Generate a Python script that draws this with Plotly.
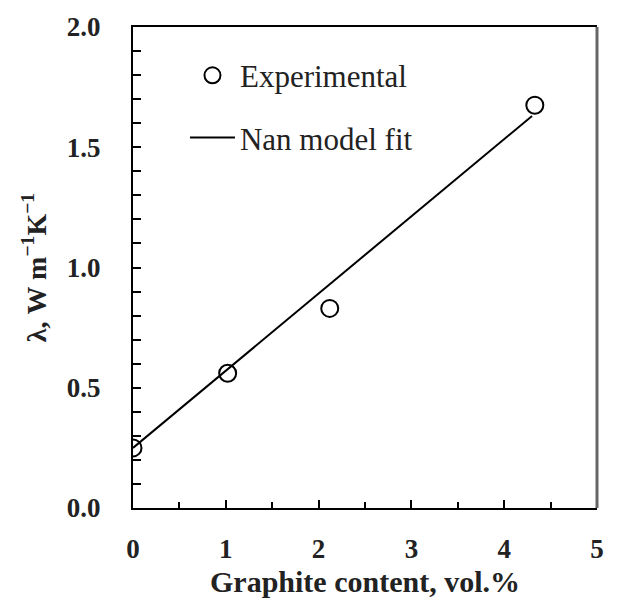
import plotly.graph_objects as go

# Data
exp_x = [0.0, 1.02, 2.12, 4.33]
exp_y = [0.25, 0.56, 0.83, 1.675]
fit_x = [0.0, 4.3]
fit_y = [0.25, 1.63]

x_ticks = [0, 1, 2, 3, 4, 5]
y_ticks = [0.0, 0.5, 1.0, 1.5, 2.0]
y_ticklabels = ["0.0", "0.5", "1.0", "1.5", "2.0"]

FONT = "Liberation Serif, Times New Roman, serif"

fig = go.Figure()
fig.add_trace(go.Scatter(
    x=exp_x, y=exp_y, mode="markers", name="Experimental",
    legendgroup="a",
    marker=dict(symbol="circle-open", size=17, color="black", line=dict(width=2, color="black")),
))
fig.add_trace(go.Scatter(
    x=fit_x, y=fit_y, mode="lines", name="Nan model fit",
    legendgroup="b",
    line=dict(color="black", width=2),
))

fig.update_layout(
    width=640, height=605,
    margin=dict(l=133, r=43, t=24, b=97),
    paper_bgcolor="white", plot_bgcolor="white",
    font=dict(family=FONT, color="black"),
    showlegend=True,
    legend=dict(
        x=0.112, y=0.955, xanchor="left", yanchor="top",
        bgcolor="rgba(0,0,0,0)",
        font=dict(family=FONT, size=31, color="#222"),
        traceorder="grouped", tracegroupgap=19, itemwidth=45,
    ),
    xaxis=dict(
        range=[0, 5], tickvals=x_ticks, ticktext=[str(v) for v in x_ticks],
        ticks="inside", ticklen=8, tickwidth=2, tickcolor="black",
        minor=dict(dtick=0.5, ticks="inside", ticklen=6, tickwidth=2, tickcolor="black"),
        showline=True, linecolor="black", linewidth=2, mirror=True,
        showgrid=False, zeroline=False,
        tickfont=dict(family=FONT, size=27, color="#222", weight=700),
        ticklabelstandoff=16,
        title=dict(text="Graphite content, vol.%", font=dict(family=FONT, size=30, color="#222", weight=700), standoff=8),
    ),
    yaxis=dict(
        range=[0, 2], tickvals=y_ticks, ticktext=y_ticklabels,
        ticks="inside", ticklen=8, tickwidth=2, tickcolor="black",
        minor=dict(dtick=0.1, ticks="inside", ticklen=8, tickwidth=2, tickcolor="black"),
        showline=True, linecolor="black", linewidth=2, mirror=False,
        showgrid=False, zeroline=False,
        tickfont=dict(family=FONT, size=27, color="#222", weight=700),
        ticklabelstandoff=25,
        title=dict(text="λ, W m<sup>−1</sup>K<sup>−1</sup>", font=dict(family=FONT, size=28, color="#222", weight=700), standoff=12),
    ),
)
# right frame line (greyish in reference)
fig.add_shape(type="line", xref="paper", yref="paper", x0=1, x1=1, y0=0, y1=1,
              line=dict(color="#666", width=3))

fig.write_html("out.html")
